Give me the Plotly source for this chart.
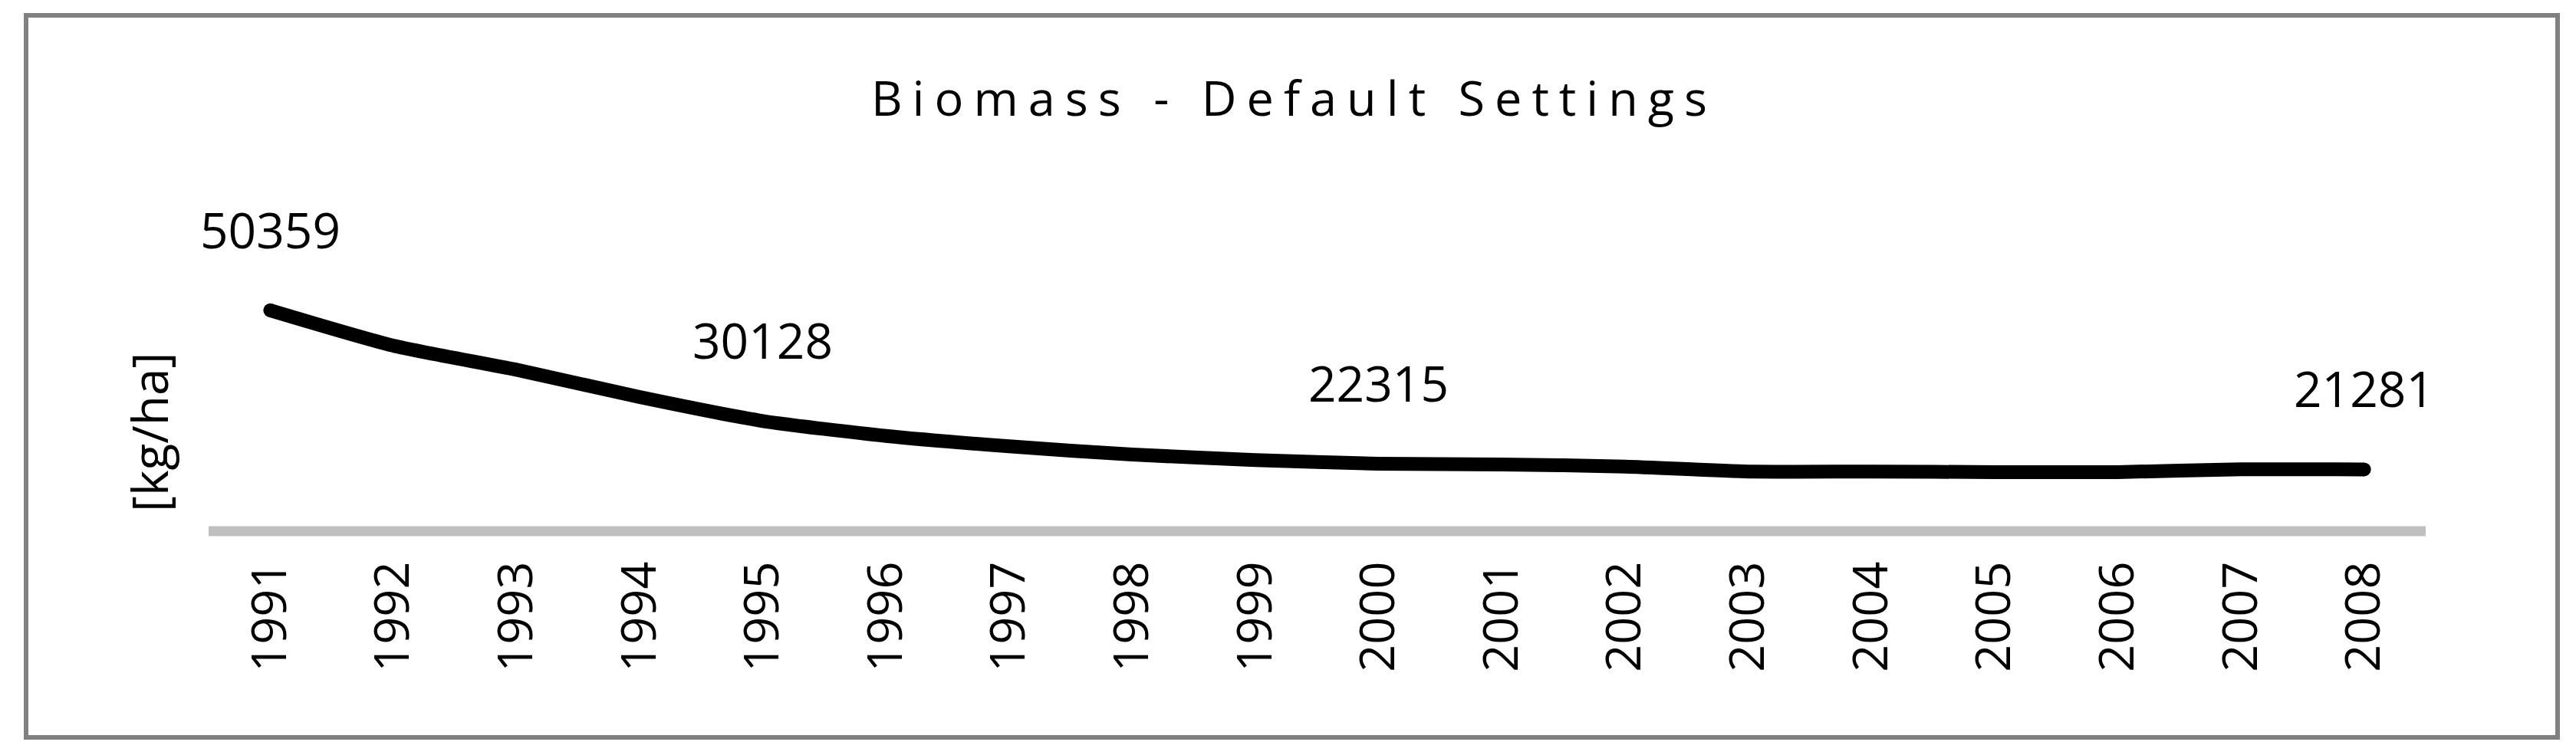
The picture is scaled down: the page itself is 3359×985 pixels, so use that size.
import plotly.graph_objects as go

# biomass per year
years = [str(y) for y in range(1991, 2009)]
biomass = [50359, 43900, 39500, 34500, 30128, 27400, 25500, 24000, 23000,
           22315, 22200, 21800, 20900, 20900, 20800, 20800, 21300, 21281]
labelled_years = ["1991", "1995", "2000", "2008"]

W, H = 3359, 985
L, R, T, B = 264, 3155, 328, 685   # plot area in pixels
pw, ph = R - L, B - T


def px_x(x):
    return (x - L) / pw


def px_y(y):
    return (B - y) / ph


fig = go.Figure()
fig.add_trace(go.Scatter(x=years, y=biomass, mode="lines",
                         line=dict(color="black", width=18, shape="spline", smoothing=0.6),
                         showlegend=False, hoverinfo="x+y"))
# round line ends
fig.add_trace(go.Scatter(x=[years[0], years[-1]], y=[biomass[0], biomass[-1]],
                         mode="markers", marker=dict(color="black", size=18),
                         showlegend=False, hoverinfo="skip"))

for yr in labelled_years:
    i = years.index(yr)
    fig.add_annotation(x=i, y=biomass[i], text=str(biomass[i]), showarrow=False,
                       xanchor="center", yanchor="bottom", yshift=60,
                       font=dict(family="Open Sans", size=64, color="black"))

# y axis title
fig.add_annotation(xref="paper", yref="paper", x=px_x(186), y=px_y(556),
                   text="[kg/ha]", textangle=-90, showarrow=False,
                   xanchor="center", yanchor="middle",
                   font=dict(family="Open Sans", size=64, color="black"))

# category axis line
fig.add_shape(type="line", xref="paper", yref="paper", x0=0, x1=1, y0=0, y1=0,
              line=dict(color="#BFBFBF", width=13))

# chart frame
fig.add_shape(type="rect", xref="paper", yref="paper",
              x0=px_x(26), x1=px_x(3327), y0=px_y(954), y1=px_y(12),
              line=dict(color="#808080", width=6))

fig.update_layout(
    width=W, height=H,
    margin=dict(l=L, r=W - R, t=T, b=H - B, pad=0),
    paper_bgcolor="white", plot_bgcolor="white",
    font=dict(family="Open Sans", color="black"),
    title=dict(text='<span style="letter-spacing:13px">Biomass - Default Settings</span>',
               x=0.5, xref="container", xanchor="center",
               y=1 - 121 / H, yref="container", yanchor="middle",
               font=dict(family="Open Sans", size=63, color="black")),
)
fig.update_xaxes(type="category", range=[-0.5, 17.5], showgrid=False, zeroline=False,
                 showline=False, ticks="", tickangle=-90, ticklabelstandoff=26,
                 tickfont=dict(family="Open Sans", size=63, color="black"))
fig.update_yaxes(range=[10000, 60000], showgrid=False, zeroline=False,
                 showline=False, showticklabels=False, ticks="")

fig.write_html("out.html")
